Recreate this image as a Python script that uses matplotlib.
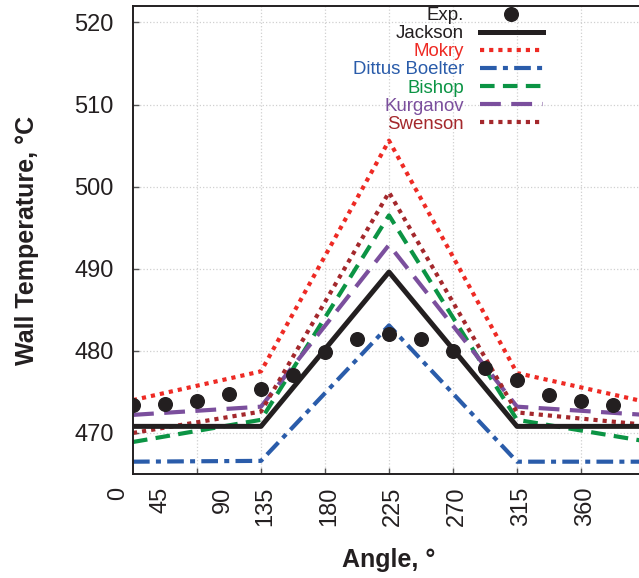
import matplotlib
matplotlib.use("Agg")
import matplotlib.pyplot as plt
import matplotlib.transforms as mtransforms

plt.rcParams['font.family'] = ['Liberation Sans', 'DejaVu Sans']

# measured wall temperature around the tube circumference
exp_angle = [45, 67.5, 90, 112.5, 135, 157.5, 180, 202.5, 225, 247.5,
             270, 292.5, 315, 337.5, 360, 382.5]
exp_temp = [473.4, 473.5, 473.9, 474.8, 475.4, 477.1, 479.9, 481.5, 482.1,
            481.4, 480.0, 477.9, 476.5, 474.6, 473.9, 473.4]

# correlation predictions
model_angle = [45, 135, 225, 315, 405]
jackson = [470.8, 470.8, 489.6, 470.8, 470.8]
mokry = [474.0, 477.5, 505.6, 477.3, 473.8]
dittus_boelter = [466.5, 466.6, 483.1, 466.5, 466.5]
bishop = [468.9, 471.6, 496.5, 471.6, 469.0]
kurganov = [472.2, 473.2, 492.9, 473.2, 472.2]
swenson = [470.0, 472.6, 499.3, 472.5, 471.0]

xtick_pos = [90, 135, 180, 225, 270, 315, 360]
xlabels = ["0", "45", "90", "135", "180", "225", "270", "315", "360"]
xlabel_pos = [34.5, 64.0, 108.0, 137.8, 182.8, 227.8, 272.8, 317.8, 362.8]
ytick_pos = [470, 480, 490, 500, 510, 520]

fig = plt.figure(figsize=(6.39, 5.78), dpi=100)
ax = fig.add_axes([133 / 639, 104 / 578, 512 / 639, 468 / 578])

ax.plot(exp_angle, exp_temp, 'o', color='#231f20', ms=9.8, zorder=6, label='Exp.')
ax.plot(model_angle, jackson, '-', color='#231f20', lw=3.6, zorder=5, label='Jackson')
ax.plot(model_angle, mokry, color='#ee2a24', lw=3.0, dashes=(1, 1.2), label='Mokry')
ax.plot(model_angle, dittus_boelter, color='#2a5caa', lw=3.0, dashes=(4, 1.5, 1.2, 1.5),
        label='Dittus Boelter')
ax.plot(model_angle, bishop, color='#0b9444', lw=3.0, dashes=(3.5, 2), label='Bishop')
ax.plot(model_angle, kurganov, color='#7b4f9d', lw=3.0, dashes=(5, 2.5), label='Kurganov')
ax.plot(model_angle, swenson, color='#a4282c', lw=3.0, dashes=(1, 1.2), label='Swenson')

ax.set_xlim(45, 405)
ax.set_ylim(465, 522)
ax.set_xticks(xtick_pos)
ax.set_yticks(ytick_pos)
ax.tick_params(axis='both', direction='in', length=4, width=1, colors='#555555',
               labelcolor='#231f20', labelsize=17)
ax.tick_params(axis='x', labelbottom=False)
ax.tick_params(axis='y', pad=14)
ax.grid(True, color='#d0d0d0', ls=':', lw=0.9)
ax.set_axisbelow(True)
for side in ['left', 'bottom', 'top']:
    ax.spines[side].set_linewidth(1.4)
    ax.spines[side].set_color('#231f20')
ax.spines['right'].set_visible(False)

# rotated angle labels, hung just under the axis
trans = mtransforms.blended_transform_factory(ax.transData, ax.transAxes)
trans = trans + mtransforms.ScaledTranslation(0, -13 / 100, fig.dpi_scale_trans)
for lab, xp in zip(xlabels, xlabel_pos):
    ax.text(xp, 0, lab, transform=trans, rotation=90, ha='center', va='top',
            fontsize=17, color='#231f20')

fig.text(389 / 639, 1 - 560 / 578, 'Angle, °', ha='center', va='center',
         fontsize=18, fontweight='bold', color='#231f20')
fig.text(27 / 639, 1 - 240 / 578, 'Wall Temperature, °C', ha='center', va='center',
         rotation=90, fontsize=18, fontweight='bold', color='#231f20')

leg = ax.legend(loc='upper right', bbox_to_anchor=(543 / 639, 1 - 7 / 578),
                bbox_transform=fig.transFigure, frameon=False, markerfirst=False,
                fontsize=13.4, handlelength=3.4, handletextpad=0.85,
                labelspacing=0.06, borderpad=0, borderaxespad=0, numpoints=1)
for txt, line in zip(leg.get_texts(), leg.get_lines()):
    txt.set_color(line.get_color())

fig.savefig('out.png', dpi=100)
